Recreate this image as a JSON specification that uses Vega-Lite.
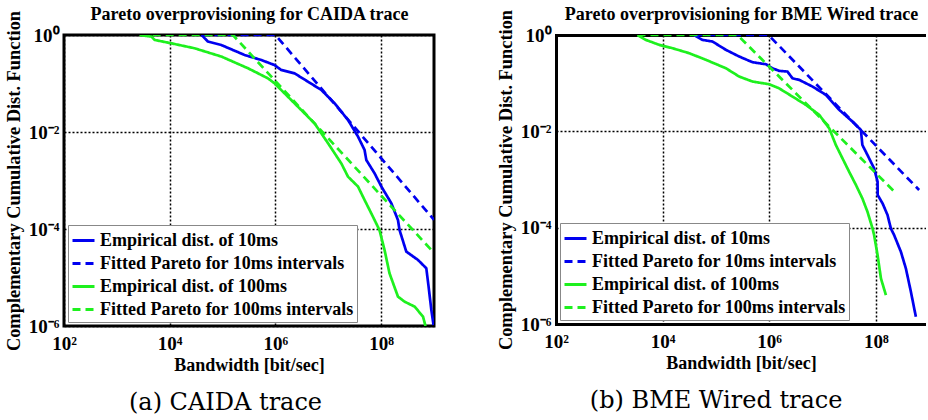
{
  "$schema": "https://vega.github.io/schema/vega-lite/v6.json",
  "padding": {"left": 2, "top": 3, "right": 0, "bottom": 0},
  "spacing": 57,
  "resolve": {"legend": {"color": "independent", "strokeDash": "independent"}, "scale": {"color": "independent", "strokeDash": "independent"}},
  "datasets": {
    "caida": [
      {"series": "Empirical dist. of 10ms", "i": 0, "bw": 40000, "p": 1},
      {"series": "Empirical dist. of 10ms", "i": 1, "bw": 53000, "p": 0.73},
      {"series": "Empirical dist. of 10ms", "i": 2, "bw": 95000, "p": 0.62},
      {"series": "Empirical dist. of 10ms", "i": 3, "bw": 261000, "p": 0.387},
      {"series": "Empirical dist. of 10ms", "i": 4, "bw": 540000, "p": 0.305},
      {"series": "Empirical dist. of 10ms", "i": 5, "bw": 960000, "p": 0.24},
      {"series": "Empirical dist. of 10ms", "i": 6, "bw": 1290000, "p": 0.19},
      {"series": "Empirical dist. of 10ms", "i": 7, "bw": 2300000, "p": 0.162},
      {"series": "Empirical dist. of 10ms", "i": 8, "bw": 4130000, "p": 0.109},
      {"series": "Empirical dist. of 10ms", "i": 9, "bw": 7400000, "p": 0.0735},
      {"series": "Empirical dist. of 10ms", "i": 10, "bw": 13200000, "p": 0.039},
      {"series": "Empirical dist. of 10ms", "i": 11, "bw": 23600000, "p": 0.0177},
      {"series": "Empirical dist. of 10ms", "i": 12, "bw": 36500000, "p": 0.00804},
      {"series": "Empirical dist. of 10ms", "i": 13, "bw": 48600000, "p": 0.00426},
      {"series": "Empirical dist. of 10ms", "i": 14, "bw": 52400000, "p": 0.00265},
      {"series": "Empirical dist. of 10ms", "i": 15, "bw": 75000000, "p": 0.00141},
      {"series": "Empirical dist. of 10ms", "i": 16, "bw": 101000000, "p": 0.00075},
      {"series": "Empirical dist. of 10ms", "i": 17, "bw": 156000000, "p": 0.000339},
      {"series": "Empirical dist. of 10ms", "i": 18, "bw": 208000000, "p": 0.000153},
      {"series": "Empirical dist. of 10ms", "i": 19, "bw": 223000000, "p": 0.000095},
      {"series": "Empirical dist. of 10ms", "i": 20, "bw": 299000000, "p": 0.0000342},
      {"series": "Empirical dist. of 10ms", "i": 21, "bw": 498000000, "p": 0.000023},
      {"series": "Empirical dist. of 10ms", "i": 22, "bw": 715000000, "p": 0.0000155},
      {"series": "Empirical dist. of 10ms", "i": 23, "bw": 790000000, "p": 0.0000065},
      {"series": "Empirical dist. of 10ms", "i": 24, "bw": 890000000, "p": 0.00000214},
      {"series": "Empirical dist. of 10ms", "i": 25, "bw": 980000000, "p": 0.00000105},
      {"series": "Fitted Pareto for 10ms intervals", "i": 0, "bw": 40000, "p": 1},
      {"series": "Fitted Pareto for 10ms intervals", "i": 1, "bw": 1000000, "p": 1},
      {"series": "Fitted Pareto for 10ms intervals", "i": 2, "bw": 1000000000, "p": 0.000155},
      {"series": "Empirical dist. of 100ms", "i": 0, "bw": 2700, "p": 1},
      {"series": "Empirical dist. of 100ms", "i": 1, "bw": 4500, "p": 0.927},
      {"series": "Empirical dist. of 100ms", "i": 2, "bw": 5200, "p": 0.79},
      {"series": "Empirical dist. of 100ms", "i": 3, "bw": 10700, "p": 0.674},
      {"series": "Empirical dist. of 100ms", "i": 4, "bw": 29600, "p": 0.532},
      {"series": "Empirical dist. of 100ms", "i": 5, "bw": 95000, "p": 0.359},
      {"series": "Empirical dist. of 100ms", "i": 6, "bw": 303000, "p": 0.206},
      {"series": "Empirical dist. of 100ms", "i": 7, "bw": 720000, "p": 0.128},
      {"series": "Empirical dist. of 100ms", "i": 8, "bw": 960000, "p": 0.101},
      {"series": "Empirical dist. of 100ms", "i": 9, "bw": 2300000, "p": 0.039},
      {"series": "Empirical dist. of 100ms", "i": 10, "bw": 5500000, "p": 0.0151},
      {"series": "Empirical dist. of 100ms", "i": 11, "bw": 9900000, "p": 0.00585},
      {"series": "Empirical dist. of 100ms", "i": 12, "bw": 17600000, "p": 0.00226},
      {"series": "Empirical dist. of 100ms", "i": 13, "bw": 23600000, "p": 0.0012},
      {"series": "Empirical dist. of 100ms", "i": 14, "bw": 36500000, "p": 0.00075},
      {"series": "Empirical dist. of 100ms", "i": 15, "bw": 48600000, "p": 0.000396},
      {"series": "Empirical dist. of 100ms", "i": 16, "bw": 65000000, "p": 0.000211},
      {"series": "Empirical dist. of 100ms", "i": 17, "bw": 93000000, "p": 0.000095},
      {"series": "Empirical dist. of 100ms", "i": 18, "bw": 116000000, "p": 0.0000369},
      {"series": "Empirical dist. of 100ms", "i": 19, "bw": 144000000, "p": 0.0000122},
      {"series": "Empirical dist. of 100ms", "i": 20, "bw": 208000000, "p": 0.00000404},
      {"series": "Empirical dist. of 100ms", "i": 21, "bw": 277000000, "p": 0.00000318},
      {"series": "Empirical dist. of 100ms", "i": 22, "bw": 430000000, "p": 0.00000251},
      {"series": "Empirical dist. of 100ms", "i": 23, "bw": 620000000, "p": 0.00000156},
      {"series": "Empirical dist. of 100ms", "i": 24, "bw": 690000000, "p": 0.000001},
      {"series": "Fitted Pareto for 100ms intervals", "i": 0, "bw": 2700, "p": 1},
      {"series": "Fitted Pareto for 100ms intervals", "i": 1, "bw": 157000, "p": 1},
      {"series": "Fitted Pareto for 100ms intervals", "i": 2, "bw": 890000000, "p": 0.000037}
    ],
    "bme": [
      {"series": "Empirical dist. of 10ms", "i": 0, "bw": 39000, "p": 1},
      {"series": "Empirical dist. of 10ms", "i": 1, "bw": 56000, "p": 0.79},
      {"series": "Empirical dist. of 10ms", "i": 2, "bw": 86000, "p": 0.733},
      {"series": "Empirical dist. of 10ms", "i": 3, "bw": 154000, "p": 0.492},
      {"series": "Empirical dist. of 10ms", "i": 4, "bw": 274000, "p": 0.357},
      {"series": "Empirical dist. of 10ms", "i": 5, "bw": 486000, "p": 0.272},
      {"series": "Empirical dist. of 10ms", "i": 6, "bw": 870000, "p": 0.247},
      {"series": "Empirical dist. of 10ms", "i": 7, "bw": 1150000, "p": 0.204},
      {"series": "Empirical dist. of 10ms", "i": 8, "bw": 1540000, "p": 0.18},
      {"series": "Empirical dist. of 10ms", "i": 9, "bw": 2200000, "p": 0.174},
      {"series": "Empirical dist. of 10ms", "i": 10, "bw": 2740000, "p": 0.126},
      {"series": "Empirical dist. of 10ms", "i": 11, "bw": 3650000, "p": 0.117},
      {"series": "Empirical dist. of 10ms", "i": 12, "bw": 6500000, "p": 0.085},
      {"series": "Empirical dist. of 10ms", "i": 13, "bw": 11600000, "p": 0.057},
      {"series": "Empirical dist. of 10ms", "i": 14, "bw": 20600000, "p": 0.0279},
      {"series": "Empirical dist. of 10ms", "i": 15, "bw": 36600000, "p": 0.0159},
      {"series": "Empirical dist. of 10ms", "i": 16, "bw": 52500000, "p": 0.0107},
      {"series": "Empirical dist. of 10ms", "i": 17, "bw": 56000000, "p": 0.00521},
      {"series": "Empirical dist. of 10ms", "i": 18, "bw": 69800000, "p": 0.00323},
      {"series": "Empirical dist. of 10ms", "i": 19, "bw": 93000000, "p": 0.0017},
      {"series": "Empirical dist. of 10ms", "i": 20, "bw": 108000000, "p": 0.0009},
      {"series": "Empirical dist. of 10ms", "i": 21, "bw": 108500000, "p": 0.000476},
      {"series": "Empirical dist. of 10ms", "i": 22, "bw": 134000000, "p": 0.000319},
      {"series": "Empirical dist. of 10ms", "i": 23, "bw": 166000000, "p": 0.000183},
      {"series": "Empirical dist. of 10ms", "i": 24, "bw": 192000000, "p": 0.000096},
      {"series": "Empirical dist. of 10ms", "i": 25, "bw": 221000000, "p": 0.00007},
      {"series": "Empirical dist. of 10ms", "i": 26, "bw": 296000000, "p": 0.0000315},
      {"series": "Empirical dist. of 10ms", "i": 27, "bw": 367000000, "p": 0.0000142},
      {"series": "Empirical dist. of 10ms", "i": 28, "bw": 456000000, "p": 0.00000465},
      {"series": "Empirical dist. of 10ms", "i": 29, "bw": 565000000, "p": 0.00000141},
      {"series": "Fitted Pareto for 10ms intervals", "i": 0, "bw": 39000, "p": 1},
      {"series": "Fitted Pareto for 10ms intervals", "i": 1, "bw": 970000, "p": 1},
      {"series": "Fitted Pareto for 10ms intervals", "i": 2, "bw": 650000000, "p": 0.000605},
      {"series": "Empirical dist. of 100ms", "i": 0, "bw": 3380, "p": 1},
      {"series": "Empirical dist. of 100ms", "i": 1, "bw": 4860, "p": 0.79},
      {"series": "Empirical dist. of 100ms", "i": 2, "bw": 8600, "p": 0.625},
      {"series": "Empirical dist. of 100ms", "i": 3, "bw": 15300, "p": 0.532},
      {"series": "Empirical dist. of 100ms", "i": 4, "bw": 31500, "p": 0.419},
      {"series": "Empirical dist. of 100ms", "i": 5, "bw": 65000, "p": 0.305},
      {"series": "Empirical dist. of 100ms", "i": 6, "bw": 154000, "p": 0.204},
      {"series": "Empirical dist. of 100ms", "i": 7, "bw": 274000, "p": 0.137},
      {"series": "Empirical dist. of 100ms", "i": 8, "bw": 486000, "p": 0.108},
      {"series": "Empirical dist. of 100ms", "i": 9, "bw": 1000000, "p": 0.095},
      {"series": "Empirical dist. of 100ms", "i": 10, "bw": 1540000, "p": 0.078},
      {"series": "Empirical dist. of 100ms", "i": 11, "bw": 2740000, "p": 0.0526},
      {"series": "Empirical dist. of 100ms", "i": 12, "bw": 4880000, "p": 0.0354},
      {"series": "Empirical dist. of 100ms", "i": 13, "bw": 8700000, "p": 0.0219},
      {"series": "Empirical dist. of 100ms", "i": 14, "bw": 13400000, "p": 0.0115},
      {"series": "Empirical dist. of 100ms", "i": 15, "bw": 17800000, "p": 0.00521},
      {"series": "Empirical dist. of 100ms", "i": 16, "bw": 23700000, "p": 0.00275},
      {"series": "Empirical dist. of 100ms", "i": 17, "bw": 31600000, "p": 0.00145},
      {"series": "Empirical dist. of 100ms", "i": 18, "bw": 42400000, "p": 0.00077},
      {"series": "Empirical dist. of 100ms", "i": 19, "bw": 56000000, "p": 0.000405},
      {"series": "Empirical dist. of 100ms", "i": 20, "bw": 69800000, "p": 0.000214},
      {"series": "Empirical dist. of 100ms", "i": 21, "bw": 87000000, "p": 0.000096},
      {"series": "Empirical dist. of 100ms", "i": 22, "bw": 93000000, "p": 0.00007},
      {"series": "Empirical dist. of 100ms", "i": 23, "bw": 108000000, "p": 0.0000269},
      {"series": "Empirical dist. of 100ms", "i": 24, "bw": 125000000, "p": 0.0000088},
      {"series": "Empirical dist. of 100ms", "i": 25, "bw": 155000000, "p": 0.00000397},
      {"series": "Fitted Pareto for 100ms intervals", "i": 0, "bw": 3380, "p": 1},
      {"series": "Fitted Pareto for 100ms intervals", "i": 1, "bw": 254000, "p": 1},
      {"series": "Fitted Pareto for 100ms intervals", "i": 2, "bw": 231000000, "p": 0.00054}
    ]
  },
  "config": {
    "font": "Liberation Serif",
    "view": {"stroke": "black", "strokeWidth": 3},
    "axis": {
      "labelFont": "Liberation Serif", "labelFontWeight": "bold", "labelFontSize": 19, "labelColor": "black",
      "titleFont": "Liberation Serif", "titleFontWeight": "bold", "titleFontSize": 18, "titleColor": "black",
      "grid": true, "gridColor": "black", "gridDash": [2, 2], "gridWidth": 1.5, "gridOpacity": 1,
      "ticks": false, "domain": false, "labelFlush": false, "labelOverlap": false
    },
    "legend": {
      "orient": "bottom-left", "offset": 4, "fillColor": "white", "strokeColor": "#888888",
      "padding": 3, "rowPadding": 1, "symbolType": "stroke", "symbolSize": 484, "symbolStrokeWidth": 3,
      "labelFont": "Liberation Serif", "labelFontWeight": "bold", "labelFontSize": 18, "labelColor": "black",
      "labelOffset": 4, "labelLimit": 400
    },
    "title": {"font": "DejaVu Serif", "fontWeight": "normal", "fontSize": 24, "color": "black"}
  },
  "hconcat": [
    {
      "width": 370,
      "height": 291,
      "title": {"text": "(a) CAIDA trace", "orient": "bottom", "anchor": "middle", "frame": "bounds", "offset": 17, "dx": 5},
      "data": {"name": "caida"},
      "resolve": {"axis": {"x": "independent"}},
      "layer": [
        {
          "mark": {"type": "line", "strokeWidth": 2.7, "clip": true},
          "encoding": {
            "x": {"field": "bw", "type": "quantitative",
              "scale": {"type": "log", "domain": [100, 1000000000]},
              "axis": {"values": [100, 10000, 1000000, 100000000], "title": "Bandwidth [bit/sec]", "labelPadding": 8, "titlePadding": 3,
                "labelExpr": "datum.value == 100 ? '10²' : datum.value == 10000 ? '10⁴' : datum.value == 1000000 ? '10⁶' : '10⁸'"}},
            "y": {"field": "p", "type": "quantitative",
              "scale": {"type": "log", "domain": [0.000001, 1]},
              "axis": {"values": [0.000001, 0.0001, 0.01, 1], "title": "Complementary Cumulative Dist. Function", "titleFontSize": 18.4, "labelPadding": 5, "titlePadding": 5,
                "labelExpr": "datum.value == 1 ? '10⁰' : datum.value == 0.01 ? '10⁻²' : datum.value == 0.0001 ? '10⁻⁴' : '10⁻⁶'"}},
            "color": {"field": "series", "type": "nominal",
              "scale": {"domain": ["Empirical dist. of 10ms", "Fitted Pareto for 10ms intervals", "Empirical dist. of 100ms", "Fitted Pareto for 100ms intervals"],
                "range": ["#0000f0", "#0000f0", "#1ef01e", "#1ef01e"]},
              "legend": {"title": null}},
            "strokeDash": {"field": "series", "type": "nominal",
              "scale": {"domain": ["Empirical dist. of 10ms", "Fitted Pareto for 10ms intervals", "Empirical dist. of 100ms", "Fitted Pareto for 100ms intervals"],
                "range": [[1, 0], [8, 5], [1, 0], [8, 5]]},
              "legend": {"title": null}},
            "order": {"field": "i", "type": "quantitative"}
          }
        },
        {
          "mark": {"type": "point", "opacity": 0},
          "encoding": {
            "x": {"field": "bw", "type": "quantitative",
              "scale": {"type": "log", "domain": [100, 1000000000]},
              "axis": {"orient": "top", "labels": false, "ticks": false, "grid": false, "domain": false,
                "title": "Pareto overprovisioning for CAIDA trace", "titleFontSize": 18, "titlePadding": 16, "titleBaseline": "alphabetic"}}
          }
        }
      ]
    },
    {
      "width": 370,
      "height": 289,
      "view": {"stroke": null},
      "title": {"text": "(b) BME Wired trace", "orient": "bottom", "anchor": "middle", "frame": "bounds", "offset": 17, "dx": 5},
      "data": {"name": "bme"},
      "resolve": {"axis": {"x": "independent"}},
      "layer": [
        {
          "mark": {"type": "line", "strokeWidth": 2.7, "clip": true},
          "encoding": {
            "x": {"field": "bw", "type": "quantitative",
              "scale": {"type": "log", "domain": [100, 875000000]},
              "axis": {"values": [100, 10000, 1000000, 100000000], "title": "Bandwidth [bit/sec]", "labelPadding": 8, "titlePadding": 3,
                "domain": true, "domainColor": "black", "domainWidth": 3, "domainCap": "square",
                "labelExpr": "datum.value == 100 ? '10²' : datum.value == 10000 ? '10⁴' : datum.value == 1000000 ? '10⁶' : '10⁸'"}},
            "y": {"field": "p", "type": "quantitative",
              "scale": {"type": "log", "domain": [0.000001, 1]},
              "axis": {"values": [0.000001, 0.0001, 0.01, 1], "title": "Complementary Cumulative Dist. Function", "titleFontSize": 18.4, "labelPadding": 5, "titlePadding": 5,
                "domain": true, "domainColor": "black", "domainWidth": 3, "domainCap": "square",
                "labelExpr": "datum.value == 1 ? '10⁰' : datum.value == 0.01 ? '10⁻²' : datum.value == 0.0001 ? '10⁻⁴' : '10⁻⁶'"}},
            "color": {"field": "series", "type": "nominal",
              "scale": {"domain": ["Empirical dist. of 10ms", "Fitted Pareto for 10ms intervals", "Empirical dist. of 100ms", "Fitted Pareto for 100ms intervals"],
                "range": ["#0000f0", "#0000f0", "#1ef01e", "#1ef01e"]},
              "legend": {"title": null}},
            "strokeDash": {"field": "series", "type": "nominal",
              "scale": {"domain": ["Empirical dist. of 10ms", "Fitted Pareto for 10ms intervals", "Empirical dist. of 100ms", "Fitted Pareto for 100ms intervals"],
                "range": [[1, 0], [8, 5], [1, 0], [8, 5]]},
              "legend": {"title": null}},
            "order": {"field": "i", "type": "quantitative"}
          }
        },
        {
          "mark": {"type": "point", "opacity": 0},
          "encoding": {
            "x": {"field": "bw", "type": "quantitative",
              "scale": {"type": "log", "domain": [100, 875000000]},
              "axis": {"orient": "top", "labels": false, "ticks": false, "grid": false,
                "domain": true, "domainColor": "black", "domainWidth": 3, "domainCap": "square",
                "title": "Pareto overprovisioning for BME Wired trace", "titleFontSize": 18, "titlePadding": 16, "titleBaseline": "alphabetic"}}
          }
        }
      ]
    }
  ]
}
